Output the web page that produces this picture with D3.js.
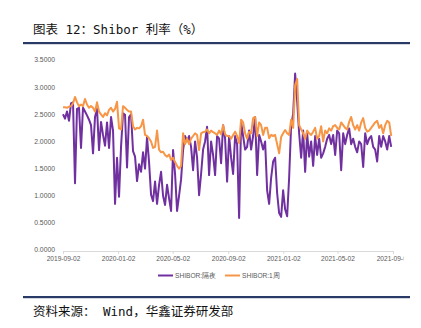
<!DOCTYPE html>
<html>
<head>
<meta charset="utf-8">
<script src="https://cdn.jsdelivr.net/npm/d3@7"></script>
<style>
  html, body { margin: 0; padding: 0; background: #fff; }
  svg { display: block; }
</style>
</head>
<body>
<svg id="chart" width="421" height="328"></svg>
<script>
// Shibor overnight and 1-week rates (%), sampled across 2019-09-02 .. 2021-08-29
const overnight = [
  2.50,2.42,2.55,2.38,2.70,2.72,1.23,2.60,2.62,1.88,
  2.62,2.55,2.48,2.40,2.30,1.78,2.45,2.60,1.84,2.36,
  2.12,1.92,2.35,1.88,2.45,2.20,0.85,1.70,0.98,1.90,
  2.52,2.49,1.52,2.45,2.50,1.82,1.72,1.27,1.58,1.44,
  1.80,1.50,2.08,1.62,1.02,0.90,1.26,0.85,1.20,1.44,
  1.00,0.83,1.20,0.95,0.72,1.84,1.40,0.72,1.00,1.30,
  1.84,2.10,2.00,2.10,1.90,1.47,2.00,1.70,1.01,1.40,
  1.85,2.00,2.27,1.38,2.00,1.75,1.38,2.10,2.05,1.60,
  2.30,2.05,1.26,2.10,1.70,1.40,2.10,1.95,0.59,2.35,
  2.10,1.85,1.90,2.20,1.85,2.10,2.45,1.38,2.12,2.00,
  1.85,2.00,1.10,0.85,1.33,1.63,1.70,1.05,0.68,0.61,
  1.10,0.75,0.62,1.33,2.30,2.50,3.25,2.75,2.15,1.70,
  2.20,1.44,2.15,1.72,2.00,1.55,2.10,1.75,2.05,1.70,
  1.78,1.90,2.05,2.12,1.95,2.12,1.75,2.20,2.15,1.47,
  2.15,1.95,2.12,2.24,1.95,2.05,1.90,1.80,2.00,1.95,
  1.53,2.15,1.95,2.05,2.10,1.90,1.85,1.63,2.10,1.90,
  2.10,2.00,1.85,2.10,1.90
];
const week1 = [
  2.63,2.63,2.62,2.64,2.65,2.70,2.82,2.72,2.65,2.68,
  2.65,2.78,2.68,2.62,2.65,2.62,2.55,2.72,2.55,2.50,
  2.45,2.52,2.48,2.58,2.62,2.55,2.60,2.73,2.24,2.22,
  2.65,2.62,2.58,2.55,2.55,2.28,2.22,2.25,2.24,2.28,
  2.40,2.12,2.10,2.06,2.00,1.88,1.90,2.20,1.85,1.80,
  1.81,1.75,1.72,1.76,1.66,1.70,1.62,1.55,1.50,1.55,
  2.15,1.95,2.05,1.95,2.05,2.10,2.15,2.12,1.84,2.15,
  2.17,2.18,2.22,2.15,2.20,2.17,2.15,2.12,2.20,2.13,
  2.30,2.13,2.10,2.10,2.05,2.12,2.18,2.10,1.97,2.40,
  2.35,2.15,2.05,2.18,2.15,2.43,2.45,2.10,2.35,2.30,
  2.12,2.25,2.25,2.06,2.12,2.10,2.12,1.95,1.78,2.08,
  2.15,2.21,2.15,2.12,2.40,2.25,3.04,3.15,2.30,2.22,
  2.15,2.05,2.20,2.15,2.12,2.18,2.25,2.05,2.10,2.28,
  2.00,2.20,2.15,2.24,2.20,2.28,2.30,2.25,2.22,2.35,
  2.30,2.25,2.22,2.36,2.45,2.30,2.22,2.30,2.20,2.35,
  2.43,2.25,2.18,2.20,2.25,2.30,2.35,2.38,2.25,2.30,
  2.15,2.30,2.38,2.35,2.10
];
const seriesNames = ["SHIBOR:隔夜", "SHIBOR:1周"];
const seriesColors = ["#7030A0", "#F79646"];
const xTickLabels = ["2019-09-02","2020-01-02","2020-05-02","2020-09-02","2021-01-02","2021-05-02","2021-09-02"];
const yTicks = [0, 0.5, 1.0, 1.5, 2.0, 2.5, 3.0, 3.5];

const parse = d3.timeParse("%Y-%m-%d");
const firstDate = parse("2019-09-02");
const lastDate = parse("2021-08-29");
const n = overnight.length;
const span = lastDate - firstDate;
const dates = d3.range(n).map(i => new Date(+firstDate + span * i / (n - 1)));

const svg = d3.select("#chart");
const axisFont = "'Liberation Sans', Arial, sans-serif";
const headFont = "'DejaVu Sans Mono', 'Noto Sans CJK SC', monospace";

// header
svg.append("text")
  .attr("x", 33).attr("y", 34)
  .attr("font-family", headFont)
  .attr("font-size", 12.5).attr("fill", "#111")
  .text("图表 12：Shibor 利率（%）");
svg.append("rect").attr("x", 23).attr("y", 42).attr("width", 387).attr("height", 2.2).attr("fill", "#2a3a66");

// scales
const x = d3.scaleTime().domain([parse("2019-09-02"), parse("2021-09-02")]).range([63, 393]);
const y = d3.scaleLinear().domain([0, 3.5]).range([250, 60]);

// y axis labels
svg.append("g").selectAll("text").data(yTicks).join("text")
  .attr("x", 55).attr("y", d => y(d)).attr("dy", "0.35em")
  .attr("text-anchor", "end")
  .attr("font-family", axisFont).attr("font-size", 6.8).attr("fill", "#595959")
  .text(d => d3.format(".4f")(d));

// x axis, labels cut at the chart area's right edge
const clip = svg.append("defs").append("clipPath").attr("id", "areaClip");
clip.append("rect").attr("x", 0).attr("y", 0).attr("width", 403.5).attr("height", 328);

const xAxis = d3.axisBottom(x)
  .tickValues(xTickLabels.map(parse))
  .tickFormat((d, i) => xTickLabels[i])
  .tickSize(3).tickSizeOuter(0);
const gx = svg.append("g").attr("transform", "translate(0,251)").attr("clip-path", "url(#areaClip)").call(xAxis);
gx.select(".domain").attr("stroke", "#d9d9d9").attr("stroke-width", 1);
gx.selectAll(".tick line").attr("stroke", "#d9d9d9");
gx.selectAll(".tick text").attr("font-family", axisFont).attr("font-size", 6.6).attr("fill", "#595959").attr("dy", "0.55em");

// lines
const line = d3.line().x((d, i) => x(dates[i])).y(d => y(d)).curve(d3.curveLinear);
[overnight, week1].forEach((vals, k) => {
  svg.append("path").datum(vals)
    .attr("fill", "none")
    .attr("stroke", seriesColors[k])
    .attr("stroke-width", 2)
    .attr("stroke-linejoin", "round")
    .attr("d", line);
});

// legend
const legendX = [158, 225];
const lg = svg.append("g");
seriesNames.forEach((name, k) => {
  lg.append("line").attr("x1", legendX[k]).attr("x2", legendX[k] + 15)
    .attr("y1", 275.5).attr("y2", 275.5)
    .attr("stroke", seriesColors[k]).attr("stroke-width", 2);
  lg.append("text").attr("x", legendX[k] + 17).attr("y", 275.5).attr("dy", "0.35em")
    .attr("font-family", axisFont).attr("font-size", 6.6).attr("fill", "#595959")
    .text(name);
});

// footer
svg.append("rect").attr("x", 23).attr("y", 296).attr("width", 387).attr("height", 2.2).attr("fill", "#2a3a66");
svg.append("text")
  .attr("x", 33).attr("y", 316)
  .attr("font-family", headFont)
  .attr("font-size", 12.5).attr("fill", "#111")
  .text("资料来源： Wind，华鑫证券研发部");
</script>
</body>
</html>
